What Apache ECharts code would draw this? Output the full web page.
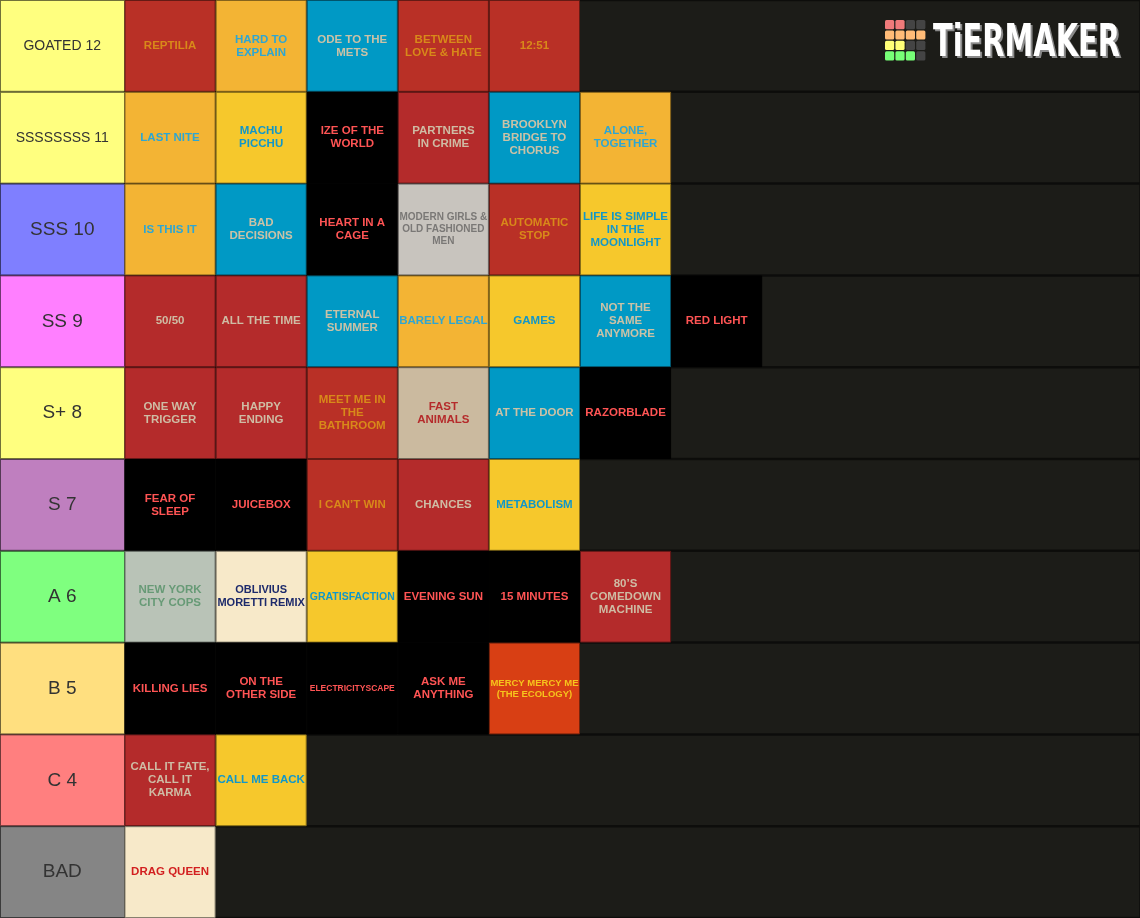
<!DOCTYPE html>
<html><head><meta charset="utf-8">
<script src="https://cdn.jsdelivr.net/npm/echarts@6/dist/echarts.min.js"></script>
<style>html,body{margin:0;padding:0;background:#1b1b17;overflow:hidden}#c{width:1140px;height:918px}</style>
</head><body><div id="c"></div>
<script>
// ---------- data ----------
const tiers = ['GOATED 12','SSSSSSSS 11','SSS 10','SS 9','S+ 8','S 7','A 6','B 5','C 4','BAD'];
const tierColors = ['#ffff7f','#ffff7f','#7f7fff','#ff7fff','#ffff7f','#bf7fbf','#7fff7f','#ffdf7f','#ff7f7f','#858585'];

const goated = [['REPTILIA','redO'],['HARD TO\nEXPLAIN','amber'],['ODE TO THE\nMETS','blue'],['BETWEEN\nLOVE & HATE','redO'],['12:51','redO']];
const s11 = [['LAST NITE','amber'],['MACHU\nPICCHU','yellow'],['IZE OF THE\nWORLD','black'],['PARTNERS\nIN CRIME','redB'],['BROOKLYN\nBRIDGE TO\nCHORUS','blue'],['ALONE,\nTOGETHER','amber']];
const s10 = [['IS THIS IT','amber'],['BAD\nDECISIONS','blue'],['HEART IN A\nCAGE','black'],['MODERN GIRLS &\nOLD FASHIONED\nMEN','gray'],['AUTOMATIC\nSTOP','redO'],['LIFE IS SIMPLE\nIN THE\nMOONLIGHT','yellow']];
const s9 = [['50/50','redB'],['ALL THE TIME','redB'],['ETERNAL\nSUMMER','blue'],['BARELY LEGAL','amber'],['GAMES','yellow'],['NOT THE\nSAME\nANYMORE','blue'],['RED LIGHT','black']];
const s8 = [['ONE WAY\nTRIGGER','redB'],['HAPPY\nENDING','redB'],['MEET ME IN\nTHE\nBATHROOM','redO'],['FAST\nANIMALS','tan'],['AT THE DOOR','blue'],['RAZORBLADE','black']];
const s7 = [['FEAR OF\nSLEEP','black'],['JUICEBOX','black'],['I CAN\u2019T WIN','redO'],['CHANCES','redB'],['METABOLISM','yellow']];
const a6 = [['NEW YORK\nCITY COPS','sage'],['OBLIVIUS\nMORETTI REMIX','cream'],['GRATISFACTION','yellow'],['EVENING SUN','black'],['15 MINUTES','black'],['80\u2019S\nCOMEDOWN\nMACHINE','redB']];
const b5 = [['KILLING LIES','black'],['ON THE\nOTHER SIDE','black'],['ELECTRICITYSCAPE','black'],['ASK ME\nANYTHING','black'],['MERCY MERCY ME\n(THE ECOLOGY)','orange']];
const c4 = [['CALL IT FATE,\nCALL IT\nKARMA','redB'],['CALL ME BACK','yellow']];
const bad = [['DRAG QUEEN','creamR']];

const rows = [goated, s11, s10, s9, s8, s7, a6, b5, c4, bad];

// ---------- styles ----------
const palette = {
  redO:   {bg:'#b93026', fg:'#d8891a'},
  redB:   {bg:'#b42b2b', fg:'#cfbca4'},
  amber:  {bg:'#f3b434', fg:'#2ea6d2'},
  blue:   {bg:'#0099c5', fg:'#cbc2a6'},
  black:  {bg:'#000000', fg:'#ff5454'},
  yellow: {bg:'#f6c82c', fg:'#1197c9'},
  gray:   {bg:'#c8c4be', fg:'#7a7876'},
  tan:    {bg:'#cbba9f', fg:'#b52b2b'},
  sage:   {bg:'#b9c3b7', fg:'#679a76'},
  cream:  {bg:'#f7e9c9', fg:'#1d2a6b'},
  orange: {bg:'#d83f14', fg:'#f6c41c'},
  creamR: {bg:'#f7e9c9', fg:'#d21f1f'}
};
const W = 1140, H = 918, LABEL_W = 124.5, TILE_W = 91.1;
const TILE_FONT = '"Liberation Sans", Arial, sans-serif';

function darken(hex, k) {
  const n = parseInt(hex.slice(1), 16);
  const r = ((n >> 16) & 255) * (1 - k) | 0, g = ((n >> 8) & 255) * (1 - k) | 0, b = (n & 255) * (1 - k) | 0;
  return 'rgb(' + r + ',' + g + ',' + b + ')';
}
const mctx = document.createElement('canvas').getContext('2d');
function fitSize(text, base, maxW, weight, family) {
  mctx.font = weight + ' ' + base + 'px ' + family;
  let m = 0;
  text.split('\n').forEach(l => { m = Math.max(m, mctx.measureText(l).width); });
  return m > maxW ? Math.floor(base * maxW / m * 2) / 2 : base;
}

const tileData = [];
rows.forEach((r, ri) => r.forEach((s, ci) => tileData.push({value: [ci, ri], label: s[0], key: s[1]})));
const labelData = tiers.map((t, i) => ({value: [0, i], label: t, color: tierColors[i]}));

const chart = echarts.init(document.getElementById('c'), null, {renderer: 'canvas'});

function renderLabel(params, api) {
  const d = labelData[params.dataIndex];
  const p = api.coord([0, api.value(1)]);
  const h = api.size([0, 1])[1];
  const y0 = p[1] - h / 2;
  const fs = fitSize(d.label, 19, 100, 'normal', TILE_FONT) < 19 ? 14 : 19;
  return {type: 'group', children: [
    {type: 'rect', shape: {x: p[0], y: y0 + 0.5, width: W - p[0], height: h - 1},
     style: {fill: '#1c1c18', stroke: '#0d0d0b', lineWidth: 1.5}},
    {type: 'rect', shape: {x: 0.5, y: y0 + 0.5, width: p[0] - 0.5, height: h - 1},
     style: {fill: d.color, stroke: darken(d.color, 0.55), lineWidth: 1}},
    {type: 'text', style: {x: p[0] / 2, y: y0 + h / 2, text: d.label, align: 'center', verticalAlign: 'middle',
      fill: '#333333', font: 'normal ' + fs + 'px ' + TILE_FONT}}
  ]};
}

function renderTile(params, api) {
  const d = tileData[params.dataIndex];
  const st = palette[d.key];
  const p = api.coord([api.value(0), api.value(1)]);
  const w = api.size([1, 0])[0];
  const h = api.size([0, 1])[1];
  const x0 = p[0], y0 = p[1] - h / 2;
  const fs = fitSize(d.label, 11.5, 89, 'bold', TILE_FONT);
  return {type: 'group', children: [
    {type: 'rect', shape: {x: x0 + 0.5, y: y0 + 0.5, width: w - 1, height: h - 1},
     style: {fill: st.bg, stroke: darken(st.bg, 0.45), lineWidth: 1}},
    {type: 'text', style: {x: x0 + w / 2, y: y0 + h / 2, text: d.label, align: 'center', verticalAlign: 'middle',
      fill: st.fg, font: 'bold ' + fs + 'px ' + TILE_FONT, lineHeight: Math.round(fs * 1.15)}}
  ]};
}

// logo
const logoColors = [
  ['#f07a7a','#f07a7a','#444444','#444444'],
  ['#ffbb77','#ffbb77','#ffbb77','#ffbb77'],
  ['#ffff77','#ffff77','#444444','#444444'],
  ['#77ff77','#77ff77','#77ff77','#444444']
];
const logo = [];
logoColors.forEach((r, ri) => r.forEach((c, ci) => logo.push({
  type: 'rect', z: 100, shape: {x: 885 + ci * 10.4, y: 20 + ri * 10.4, width: 9.2, height: 9.2, r: 1.5}, style: {fill: c}
})));
const LOGO_FONT = 'bold 45px "DejaVu Sans", sans-serif';
mctx.font = LOGO_FONT;
const logoScale = 187 / mctx.measureText('TiERMAKER').width;
logo.push({type: 'text', z: 100, x: 935, y: 46, scaleX: logoScale, style: {x: 0, y: 0, text: 'TiERMAKER', font: LOGO_FONT, fill: '#8a8a8a', align: 'left', verticalAlign: 'middle'}});
logo.push({type: 'text', z: 101, x: 933, y: 44, scaleX: logoScale, style: {x: 0, y: 0, text: 'TiERMAKER', font: LOGO_FONT, fill: '#ffffff', align: 'left', verticalAlign: 'middle'}});

chart.setOption({
  animation: false,
  backgroundColor: '#1b1b17',
  grid: {left: 0, right: 0, top: 0, bottom: 0},
  xAxis: {type: 'value', min: -LABEL_W / TILE_W, max: (W - LABEL_W) / TILE_W, show: false},
  yAxis: {type: 'category', data: tiers, inverse: true, show: false},
  graphic: {elements: logo},
  series: [
    {type: 'custom', renderItem: renderLabel, data: labelData.map(d => d.value), encode: {x: 0, y: 1}, clip: false, z: 1},
    {type: 'custom', renderItem: renderTile, data: tileData.map(d => d.value), encode: {x: 0, y: 1}, clip: false, z: 2}
  ]
});
</script></body></html>
